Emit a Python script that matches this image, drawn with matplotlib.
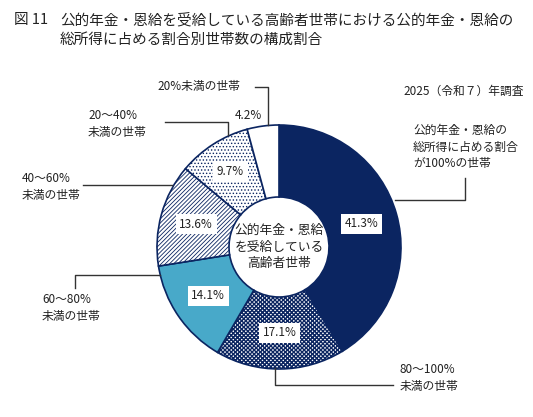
import numpy as np
import matplotlib
matplotlib.use('Agg')
import matplotlib.pyplot as plt

plt.rcParams['font.family'] = ['Noto Sans CJK JP', 'DejaVu Sans']

# data (clockwise from top)
categories = ['公的年金・恩給の\n総所得に占める割合\nが100%の世帯',
              '80～100%\n未満の世帯',
              '60～80%\n未満の世帯',
              '40～60%\n未満の世帯',
              '20～40%\n未満の世帯',
              '20%未満の世帯']
values = [41.3, 17.1, 14.1, 13.6, 9.7, 4.2]
pct_labels = ['41.3%', '17.1%', '14.1%', '13.6%', '9.7%', '4.2%']

navy = '#0b2561'
teal = '#48a9c9'
faces = [navy, 'white', teal, 'white', 'white', 'white']
hatches = [None, 'xxxxxxxx', None, '////////', '.....', None]

fig = plt.figure(figsize=(5.33, 4.17), dpi=100)
ax = fig.add_axes([0, 0, 1, 1])

cx, cy, R, W = 279, 247, 122, 72
wedges, _ = ax.pie(values, colors=faces, startangle=270, counterclock=True,
                   radius=R, center=(cx, cy),
                   wedgeprops=dict(width=W, edgecolor=navy, linewidth=1.2))
for w, h in zip(wedges, hatches):
    if h:
        w.set_hatch(h)
        if hasattr(w, 'set_hatch_linewidth'):
            w.set_hatch_linewidth(1.0 if h.startswith('x') else 0.6)

ax.set_xlim(0, 533)
ax.set_ylim(417, 0)
ax.set_aspect('auto')
ax.axis('off')

# percentage boxes
box = dict(boxstyle='square,pad=0.3', fc='white', ec='none')
for i, w in enumerate(wedges[:-1]):
    mid = np.deg2rad((w.theta1 + w.theta2) / 2)
    rr = R - W / 2 + (4 if i == 4 else 0)
    ax.text(cx + rr * np.cos(mid), cy + rr * np.sin(mid), pct_labels[i],
            ha='center', va='center', fontsize=8.5, color='#222222', bbox=box)
ax.text(248, 115, pct_labels[5], ha='center', va='center', fontsize=8.5, color='#222222')

# centre text
ax.text(cx, cy, '公的年金・恩給\nを受給している\n高齢者世帯', ha='center', va='center',
        fontsize=9.2, color='#222222', linespacing=1.35)

# category labels and leader lines
lc = '#333333'
tk = dict(fontsize=8.5, color='#222222', linespacing=1.35, va='center', ha='left')
ax.text(413, 147, categories[0], **tk)
ax.plot([395, 465, 465], [200, 200, 178], color=lc, lw=1)
ax.text(400, 378, categories[1], **tk)
ax.plot([275, 275, 393], [368, 385, 385], color=lc, lw=1)
ax.text(42, 308, categories[2], **tk)
ax.plot([160, 75, 75], [275, 275, 288], color=lc, lw=1)
ax.text(22, 187, categories[3], **tk)
ax.plot([172, 83], [185, 185], color=lc, lw=1)
ax.text(88, 124, categories[4], **tk)
ax.plot([165, 228, 228], [122, 122, 135], color=lc, lw=1)
ax.text(157, 86, categories[5], **tk)
ax.plot([255, 268, 268], [87, 87, 125], color=lc, lw=1)

ax.text(403, 91, '2025（令和７）年調査', **tk)

# title
ax.text(14, 20, '図 11', fontsize=10.5, color='#222222', va='center')
ax.text(60, 20, '公的年金・恩給を受給している高齢者世帯における公的年金・恩給の',
        fontsize=10.5, color='#222222', va='center')
ax.text(60, 40, '総所得に占める割合別世帯数の構成割合',
        fontsize=10.5, color='#222222', va='center')

fig.savefig('out.png', dpi=100)
